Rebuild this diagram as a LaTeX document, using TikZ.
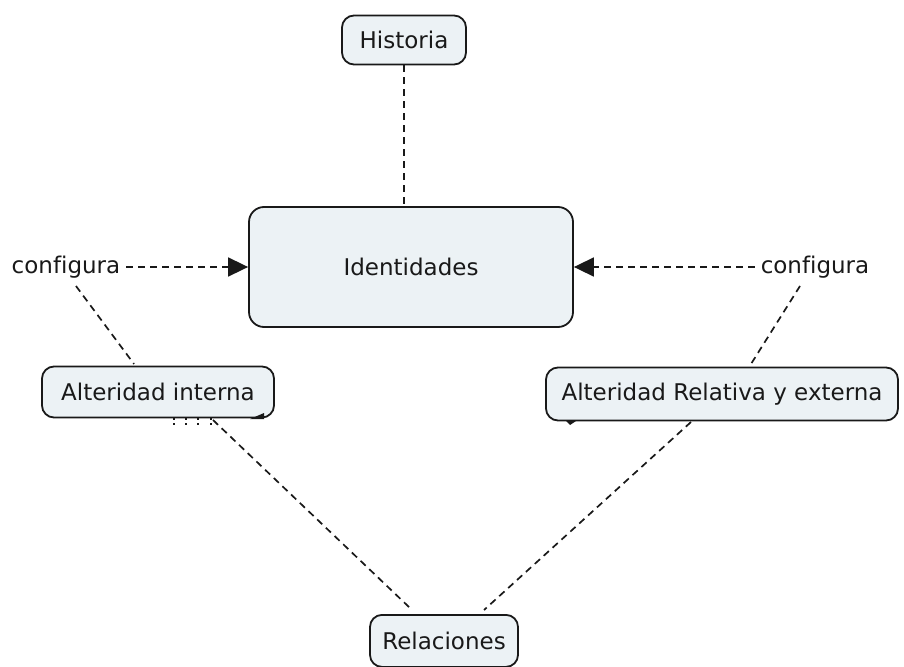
\documentclass[tikz,border=0pt]{standalone}
\usepackage{fontspec}
\setmainfont[Ligatures=NoCommon]{DejaVu Sans}
\usetikzlibrary{arrows.meta}
\definecolor{boxfill}{RGB}{236,242,245}
\definecolor{ink}{RGB}{25,25,25}
\tikzset{
  concept/.style={draw=ink, line width=1.8pt, fill=boxfill, rounded corners=12pt, font=\fontsize{23}{27}\selectfont, text=ink},
  linkword/.style={font=\fontsize{23}{27}\selectfont, text=ink, inner sep=6pt},
  dline/.style={draw=ink, line width=1.7pt, dash pattern=on 7pt off 5pt},
  darrow/.style={dline, -{Triangle[length=20pt,width=19pt]}},
  dots/.style={draw=ink, line width=1.6pt, dash pattern=on 2pt off 3pt},
}
\begin{document}
\begin{tikzpicture}[x=1pt,y=-1pt]
\useasboundingbox (0,0) rectangle (904,666);
\node[concept, minimum width=124pt, minimum height=49pt] (hist) at (404,40) {Historia};
\node[concept, minimum width=324pt, minimum height=120pt, rounded corners=15pt] (ident) at (411,267) {Identidades};
\node[linkword] (cfgL) at (66,267) {configura};
\node[linkword] (cfgR) at (815,267) {configura};
\node[concept, minimum width=232pt, minimum height=51pt] (altI) at (158,392) {Alteridad interna};
\node[concept, minimum width=352pt, minimum height=53pt] (altR) at (722,394) {Alteridad Relativa y externa};
\node[concept, minimum width=148pt, minimum height=52pt, anchor=north] (rel) at (444,614) {Relaciones};
% connectors
\draw[dline] (hist.south) -- (ident.north -| hist.south);
\draw[darrow] (cfgL.east) -- (ident.west |- cfgL.east);
\draw[darrow] (cfgR.west) -- (ident.east |- cfgR.west);
\coordinate (cLb) at (76,286);
\coordinate (aIt) at (134,364);
\draw[dline] (cLb) -- (aIt);
\coordinate (cRb) at (800,286);
\coordinate (aRt) at (751,364);
\draw[dline] (cRb) -- (aRt);
\coordinate (aIb) at (213,420);
\coordinate (rIt) at (410,608);
\draw[dline] (aIb) -- (rIt);
\coordinate (aRb) at (691,422);
\coordinate (rRt) at (484,610);
\draw[dline] (aRb) -- (rRt);
% dotted stubs under Alteridad interna
\foreach \xx in {174,186,198,211} {
  \coordinate (s\xx a) at (\xx,418);
  \coordinate (s\xx b) at (\xx,426);
  \draw[dots] (s\xx a) -- (s\xx b);
}
% small arrow tips
\coordinate (tA1) at (250,419);
\coordinate (tA2) at (264,419);
\coordinate (tA3) at (264,413);
\fill[ink] (tA1) -- (tA2) -- (tA3) -- cycle;
\coordinate (tB1) at (566,421);
\coordinate (tB2) at (576,421);
\coordinate (tB3) at (570,425);
\fill[ink] (tB1) -- (tB2) -- (tB3) -- cycle;
\end{tikzpicture}
\end{document}
